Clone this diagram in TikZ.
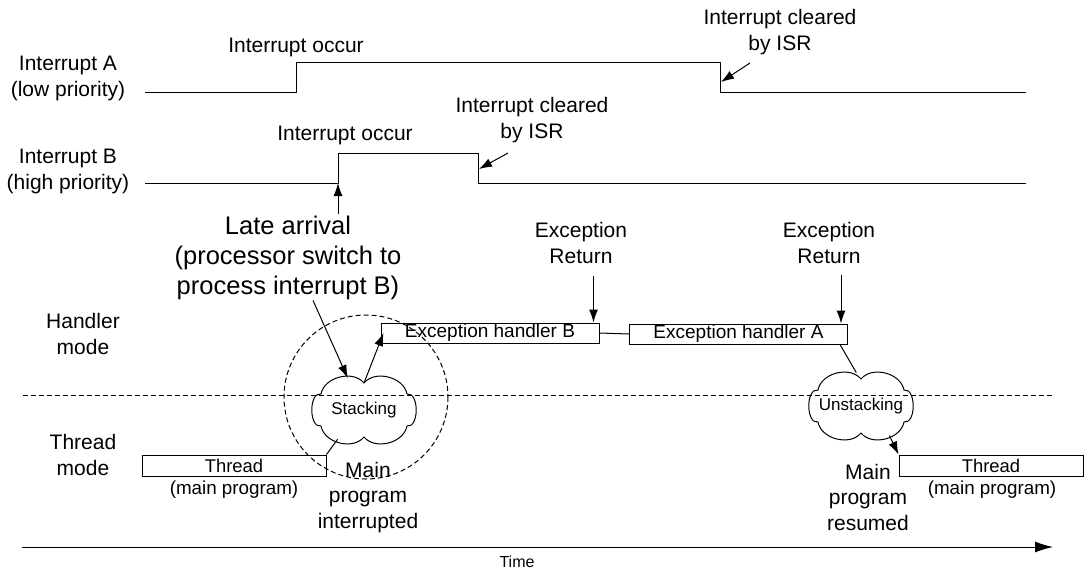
\documentclass[tikz,border=0pt]{standalone}
\usepackage{fontspec}
\setmainfont{Liberation Sans}
\usetikzlibrary{arrows.meta, shapes.geometric, calc}

\begin{document}
\begin{tikzpicture}[x=0.5pt, y=-0.5pt, line width=0.5pt,
  lbl/.style={align=center, inner sep=0pt, font=\fontsize{10.5}{13}\selectfont},
  hbox/.style={draw, minimum width=109pt, minimum height=10pt, inner sep=0pt, font=\fontsize{9.5}{11}\selectfont},
  tbox/.style={draw, minimum width=92pt, minimum height=10.5pt, inner sep=0pt, font=\fontsize{9.2}{11}\selectfont},
  sub/.style={inner sep=0pt, font=\fontsize{9.4}{11}\selectfont},
  puff/.style={ellipse, minimum width=54pt, minimum height=33pt, inner sep=0pt, font=\fontsize{8.5}{10}\selectfont},
  arr/.style={-{Latex[length=6.5pt, width=4.5pt]}}]
\useasboundingbox (0,0) rectangle (1084,570);

% interrupt signals
\coordinate (aUp) at (296,62);
\coordinate (aDn) at (720,92);
\coordinate (bUp) at (338,183);
\coordinate (bDn) at (478,183);
\draw (145,92) -- (296,92) -- (aUp) -- (720,62) -- (aDn) -- (1026,92);
\draw (145,183) -- (bUp) -- (338,153) -- (478,153) -- (bDn) -- (1026,183);

\node[lbl] (intA) at (68,78) {Interrupt A\\(low priority)};
\node[lbl] (intB) at (68,171) {Interrupt B\\(high priority)};
\node[lbl] (occA) at (296,47) {Interrupt occur};
\node[lbl] (occB) at (345,135) {Interrupt occur};
\node[lbl] (clrA) at (780,32) {Interrupt cleared\\by ISR};
\node[lbl] (clrB) at (532,120) {Interrupt cleared\\by ISR};

\coordinate (clrAend) at (750,63);
\coordinate (clrBend) at (508,153);
\draw[arr] (clrAend) -- ($(aDn)+(1,-10)$);
\draw[arr] (clrBend) -- ($(bDn)+(1,-14)$);

% late arrival
\node[align=center, inner sep=0pt, font=\fontsize{12.75}{15}\selectfont] (late) at (288,258)
  {Late arrival\\(processor switch to\\process interrupt B)};
\coordinate (lateUp) at (338,214);
\draw[arr] (lateUp) -- (bUp);

% modes
\node[lbl] (hmode) at (83,334) {Handler\\mode};
\node[lbl] (tmode) at (83,455) {Thread\\mode};
\draw[dashed, dash pattern=on 2.5pt off 1.5pt] (23,395) -- (1053,395);
\draw[dashed, dash pattern=on 2.5pt off 1.5pt] (366,397) circle[radius=82];

% handlers
\node[hbox] (hB) at (490,333) {Exception handler B};
\node[hbox] (hA) at (738.5,334) {Exception handler A};
\draw (hB.east) -- (hA.west);
\node[lbl] (retB) at (581,243) {Exception\\Return};
\node[lbl] (retA) at (829,243) {Exception\\Return};
\draw[arr] ($(hB.north east)+(-6,-47)$) -- ($(hB.north east)+(-6,0)$);
\draw[arr] ($(hA.north east)+(-7,-49)$) -- ($(hA.north east)+(-7,0)$);

% stacking clouds
\node[puff] (stk) at (364,410) {Stacking};
\node[puff] (ustk) at (861,406) {Unstacking};
\foreach \c in {stk, ustk}
  \draw ($(\c.center)+(43,-16)$) to[bend right=65] ($(\c.center)+(0,-27)$)
    to[bend right=65] ($(\c.center)+(-43,-16)$) to[bend right=100] ($(\c.center)+(-43,16)$)
    to[bend right=65] ($(\c.center)+(0,27)$) to[bend right=65] ($(\c.center)+(43,16)$)
    to[bend right=100] ($(\c.center)+(43,-16)$);
\coordinate (stkTop) at ($(stk.center)+(0,-27)$);

% thread
\node[tbox] (th1) at (234,465.5) {Thread};
\node[sub] (mp1) at (234,490) {(main program)};
\node[tbox] (th2) at (991,465.5) {Thread};
\node[sub] (mp2) at (992,490) {(main program)};
\node[lbl, font=\fontsize{10.5}{12.75}\selectfont] (mpi) at (368,497.5) {Main\\program\\interrupted};
\node[lbl, font=\fontsize{10.5}{12.75}\selectfont] (mpr) at (868,497) {Main\\program\\resumed};

\draw[arr] ($(late.south)+(25,0)$) -- (stk.117);
\draw[arr] (stkTop) -- ($(hB.west)+(3,0)$);
\draw (stk.228) -- (th1.north east);
\draw ($(hA.south east)+(-8,0)$) -- (ustk.98);
\draw[arr] (ustk.314) -- (th2.north west);

% time axis
\coordinate (t0) at (22,547);
\coordinate (t1) at (1053,547);
\draw[-{Latex[length=9pt, width=5.5pt]}] (t0) -- (t1);
\node[inner sep=0pt, font=\fontsize{8}{10}\selectfont] (time) at (517,562) {Time};
\end{tikzpicture}
\end{document}
